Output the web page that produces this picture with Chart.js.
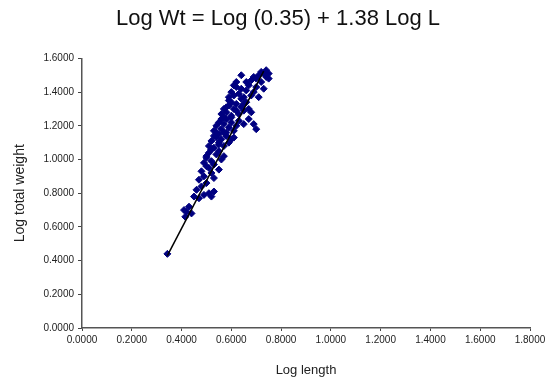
<!DOCTYPE html>
<html>
<head>
<meta charset="utf-8">
<script src="https://cdn.jsdelivr.net/npm/chart.js@4/dist/chart.umd.min.js"></script>
<style>
  html, body { margin: 0; padding: 0; background: #fff; }
  #wrap { width: 556px; height: 383px; }
</style>
</head>
<body>
<div id="wrap"><canvas id="chart"></canvas></div>
<script>
// Log length / log total weight pairs
const logLength = [
    0.343,
    0.41, 0.415, 0.43, 0.44, 0.42,
    0.45, 0.47, 0.49, 0.51, 0.53, 0.52, 0.46, 0.48,
    0.47, 0.49, 0.50, 0.52, 0.48, 0.51, 0.53, 0.55,
    0.49, 0.50, 0.52, 0.54, 0.51, 0.53, 0.56, 0.55, 0.57, 0.50,
    0.51, 0.52, 0.53, 0.54, 0.55, 0.56, 0.57, 0.58, 0.59, 0.53, 0.55, 0.60, 0.61, 0.52,
    0.53, 0.54, 0.55, 0.56, 0.57, 0.58, 0.59, 0.60, 0.61, 0.62, 0.63, 0.65, 0.67, 0.69, 0.70, 0.56, 0.58,
    0.56, 0.57, 0.58, 0.59, 0.60, 0.61, 0.62, 0.63, 0.64, 0.65, 0.66, 0.67, 0.68, 0.60,
    0.59, 0.60, 0.61, 0.62, 0.63, 0.64, 0.65, 0.66, 0.67, 0.68, 0.69, 0.70, 0.71, 0.61,
    0.64, 0.66, 0.68, 0.70, 0.71, 0.72, 0.73, 0.74, 0.72, 0.75, 0.74, 0.69,
    0.54, 0.57, 0.59, 0.62, 0.64, 0.73, 0.75, 0.58,
    0.50, 0.52, 0.55, 0.57, 0.60, 0.62, 0.65
];
const logWeight = [
    0.44,
    0.70, 0.66, 0.72, 0.68, 0.69,
    0.78, 0.77, 0.79, 0.80, 0.81, 0.78, 0.82, 0.84,
    0.88, 0.90, 0.86, 0.92, 0.93, 0.95, 0.89, 0.94,
    0.98, 1.01, 0.99, 1.03, 1.04, 0.97, 1.00, 1.05, 1.02, 0.96,
    1.08, 1.11, 1.07, 1.13, 1.09, 1.12, 1.08, 1.14, 1.10, 1.14, 1.15, 1.12, 1.13, 1.06,
    1.17, 1.20, 1.22, 1.18, 1.21, 1.24, 1.19, 1.22, 1.17, 1.20, 1.23, 1.21, 1.24, 1.21, 1.18, 1.24, 1.16,
    1.27, 1.30, 1.28, 1.32, 1.26, 1.30, 1.33, 1.27, 1.31, 1.29, 1.34, 1.30, 1.28, 1.34,
    1.37, 1.40, 1.38, 1.43, 1.39, 1.42, 1.37, 1.41, 1.44, 1.38, 1.40, 1.43, 1.37, 1.44,
    1.50, 1.46, 1.47, 1.48, 1.50, 1.46, 1.51, 1.49, 1.52, 1.51, 1.53, 1.49,
    1.16, 1.25, 1.35, 1.46, 1.36, 1.42, 1.48, 1.31,
    1.02, 1.06, 1.10, 1.16, 1.25, 1.29, 1.33
];

// fitted line, ends as drawn
const fitX = [0.343, 0.73];
const fitY = [0.43, 1.525];

const xTicks = [0, 0.2, 0.4, 0.6, 0.8, 1.0, 1.2, 1.4, 1.6, 1.8];
const yTicks = [0, 0.2, 0.4, 0.6, 0.8, 1.0, 1.2, 1.4, 1.6];

const titleText = 'Log Wt = Log (0.35) + 1.38 Log L';
const xTitle = 'Log length';
const yTitle = 'Log total weight';

const points = logLength.map((x, i) => ({ x: x, y: logWeight[i] }));
const fitLine = fitX.map((x, i) => ({ x: x, y: fitY[i] }));

const fontFamily = 'Liberation Sans, Arial, sans-serif';
const tickFont = { family: fontFamily, size: 10 };

new Chart(document.getElementById('chart').getContext('2d'), {
    type: 'scatter',
    data: {
        datasets: [
            {
                type: 'line',
                data: fitLine,
                borderColor: '#000',
                borderWidth: 1.5,
                pointRadius: 0,
                fill: false,
                order: 0
            },
            {
                data: points,
                pointStyle: 'rectRot',
                pointRadius: 3.5,
                backgroundColor: '#000080',
                borderColor: '#000080',
                borderWidth: 1,
                order: 1
            }
        ]
    },
    options: {
        responsive: true,
        maintainAspectRatio: false,
        animation: false,
        layout: { padding: 0 },
        plugins: {
            legend: { display: false },
            tooltip: { enabled: false },
            title: {
                display: true,
                text: titleText,
                color: '#111',
                font: { family: fontFamily, size: 22, weight: 'normal' },
                padding: { top: 6, bottom: 26 }
            }
        },
        scales: {
            x: {
                type: 'linear',
                min: 0,
                max: 1.8,
                afterBuildTicks: scale => { scale.ticks = xTicks.map(v => ({ value: v })); },
                afterFit: scale => {
                    scale.height = 55;
                    scale.paddingRight = 26; // keep the plot's right edge at 530px
                },
                ticks: {
                    font: tickFont,
                    color: '#222',
                    padding: 3,
                    maxRotation: 0,
                    callback: v => v.toFixed(4)
                },
                grid: { display: true, drawOnChartArea: false, drawTicks: true, tickLength: 3, color: '#444' },
                border: { display: true, color: '#555', width: 1.5 },
                title: {
                    display: true,
                    text: xTitle,
                    color: '#222',
                    font: { family: fontFamily, size: 13 },
                    padding: { top: 4, bottom: 5 }
                }
            },
            y: {
                type: 'linear',
                min: 0,
                max: 1.6,
                afterBuildTicks: scale => { scale.ticks = yTicks.map(v => ({ value: v })); },
                afterFit: scale => { scale.width = 82; },
                ticks: {
                    font: tickFont,
                    color: '#222',
                    padding: 4,
                    callback: v => v.toFixed(4)
                },
                grid: { display: true, drawOnChartArea: false, drawTicks: true, tickLength: 4, color: '#444' },
                border: { display: true, color: '#555', width: 1.5 },
                title: {
                    display: true,
                    text: yTitle,
                    color: '#222',
                    font: { family: fontFamily, size: 14 },
                    padding: { top: 12, bottom: 4 }
                }
            }
        }
    }
});
</script>
</body>
</html>
